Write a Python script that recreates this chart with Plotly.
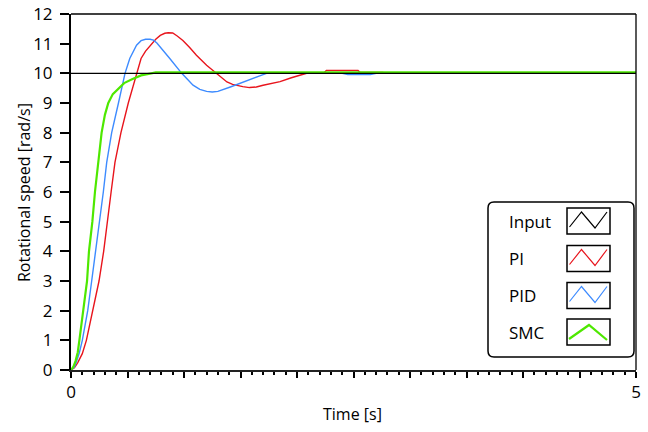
import plotly.graph_objects as go

# ---- data ----
t_input = [0.0, 5.0]
y_input = [10.0, 10.0]

t_pi = [0.0, 0.03, 0.06, 0.10, 0.136, 0.195, 0.248, 0.289, 0.325, 0.355, 0.389, 0.442, 0.507, 0.58,
        0.62, 0.66, 0.70, 0.75, 0.79, 0.83, 0.86, 0.90, 0.94, 0.99, 1.05, 1.11, 1.20, 1.29, 1.34, 1.38,
        1.43, 1.47, 1.52, 1.58, 1.64, 1.70,
        1.85, 1.95, 2.05, 2.10, 2.24, 2.26, 2.54, 2.56, 2.76, 2.78, 5.0]
y_pi = [0.0, 0.08, 0.25, 0.55, 1.0, 2.0, 3.0, 4.0, 5.0, 6.0, 7.0, 8.0, 9.0, 10.0,
        10.5, 10.75, 10.94, 11.15, 11.28, 11.35, 11.37, 11.36, 11.26, 11.11, 10.87, 10.61, 10.27, 10.0, 9.83, 9.71,
        9.63, 9.59, 9.55, 9.52, 9.54, 9.6,
        9.72, 9.85, 9.95, 10.02, 10.02, 10.1, 10.1, 10.03, 10.03, 10.0, 10.0]

t_pid = [0.0, 0.03, 0.05, 0.075, 0.10, 0.148, 0.183, 0.218, 0.248, 0.286, 0.316, 0.36, 0.42, 0.478,
         0.52, 0.58, 0.62, 0.66, 0.70, 0.73, 0.76, 0.79, 0.876, 0.98, 1.08, 1.14, 1.20, 1.25, 1.30, 1.41, 1.525,
         1.64, 1.73, 2.40, 2.45, 2.65, 2.70, 5.0]
y_pid = [0.0, 0.1, 0.3, 0.6, 1.0, 2.0, 3.0, 4.0, 5.0, 6.0, 7.0, 8.0, 9.0, 10.0,
         10.5, 10.95, 11.1, 11.15, 11.15, 11.12, 11.02, 10.89, 10.49, 10.0, 9.6, 9.46, 9.39, 9.37, 9.39, 9.54, 9.71,
         9.88, 10.0, 10.0, 9.96, 9.96, 10.0, 10.0]

t_smc = [0.0, 0.02, 0.04, 0.06, 0.074, 0.109, 0.142, 0.159, 0.189, 0.212, 0.242, 0.271, 0.30, 0.33,
         0.37, 0.42, 0.47, 0.54, 0.62, 0.71, 0.75, 5.0]
y_smc = [0.0, 0.1, 0.3, 0.6, 1.0, 2.0, 3.0, 4.0, 5.0, 6.0, 7.0, 8.0, 8.6, 9.0,
         9.3, 9.5, 9.67, 9.8, 9.93, 10.0, 10.03, 10.03]

series_names = ["Input", "PI", "PID", "SMC"]
series_colors = ["#000000", "#e8141c", "#3d8bff", "#4ee800"]

x_tickvals = [0, 0.5, 1, 1.5, 2, 2.5, 3, 3.5, 4, 4.5, 5]
x_ticktext = ["0", "", "", "", "", "", "", "", "", "", "5"]
y_tickvals = list(range(0, 13))

FONT = "Open Sans"

fig = go.Figure()
fig.add_trace(go.Scatter(x=t_pi, y=y_pi, mode="lines", name="PI",
                         line=dict(color=series_colors[1], width=1.4), showlegend=False))
fig.add_trace(go.Scatter(x=t_pid, y=y_pid, mode="lines", name="PID",
                         line=dict(color=series_colors[2], width=1.4), showlegend=False))
fig.add_trace(go.Scatter(x=t_smc, y=y_smc, mode="lines", name="SMC",
                         line=dict(color=series_colors[3], width=2.2), showlegend=False))
fig.add_trace(go.Scatter(x=t_input, y=y_input, mode="lines", name="Input",
                         line=dict(color=series_colors[0], width=1.2), showlegend=False))

# ---- custom legend (text left, sample box right) ----
L, R, T, B = 71, 636, 14, 370
def px(x):
    return (x - L) / (R - L)
def py(y):
    return (B - y) / (B - T)

shapes = []
annotations = []
x0, x1, y0, y1, r = 488, 634, 202, 357, 6
path = (f"M {px(x0+r)},{py(y0)} L {px(x1-r)},{py(y0)} Q {px(x1)},{py(y0)} {px(x1)},{py(y0+r)} "
        f"L {px(x1)},{py(y1-r)} Q {px(x1)},{py(y1)} {px(x1-r)},{py(y1)} "
        f"L {px(x0+r)},{py(y1)} Q {px(x0)},{py(y1)} {px(x0)},{py(y1-r)} "
        f"L {px(x0)},{py(y0+r)} Q {px(x0)},{py(y0)} {px(x0+r)},{py(y0)} Z")
shapes.append(dict(type="path", xref="paper", yref="paper", path=path,
                   line=dict(color="black", width=1.5), fillcolor="white", layer="above"))

row_centers = [221, 258.5, 295.5, 332]
for i, (name, col) in enumerate(zip(series_names, series_colors)):
    cy = row_centers[i]
    annotations.append(dict(x=px(507), y=py(cy), xref="paper", yref="paper", text=name,
                            showarrow=False, xanchor="left", yanchor="middle",
                            font=dict(family=FONT, size=17, color="black")))
    bx0, bx1, by0, by1 = 567, 610, cy - 13, cy + 13
    shapes.append(dict(type="rect", xref="paper", yref="paper",
                       x0=px(bx0), x1=px(bx1), y0=py(by1), y1=py(by0),
                       line=dict(color="black", width=1.5), fillcolor="white", layer="above"))
    if name == "SMC":
        zz = f"M {px(569)},{py(cy+7)} L {px(589)},{py(cy-7)} L {px(607)},{py(cy+8)}"
        w = 2.2
    else:
        zz = (f"M {px(569.5)},{py(cy+6)} L {px(581.5)},{py(cy-9)} L {px(595)},{py(cy+7)} "
              f"L {px(607)},{py(cy-9)}")
        w = 1.2
    shapes.append(dict(type="path", xref="paper", yref="paper", path=zz,
                       line=dict(color=col, width=w), layer="above"))

annotations.append(dict(x=px(352), y=py(414), xref="paper", yref="paper", text="Time [s]",
                        showarrow=False, xanchor="center", yanchor="middle",
                        font=dict(family=FONT, size=16, color="black")))
annotations.append(dict(x=px(24), y=py(193), xref="paper", yref="paper",
                        text="Rotational speed [rad/s]", textangle=-90,
                        showarrow=False, xanchor="center", yanchor="middle",
                        font=dict(family=FONT, size=16, color="black")))

fig.update_layout(
    width=648, height=432,
    margin=dict(l=L, r=648 - R, t=T, b=432 - B, autoexpand=False),
    paper_bgcolor="white", plot_bgcolor="white",
    font=dict(family=FONT, size=17, color="black"),
    shapes=shapes, annotations=annotations,
    xaxis=dict(range=[0, 5], tickmode="array", tickvals=x_tickvals, ticktext=x_ticktext,
               ticks="outside", ticklen=6, tickwidth=1.5, tickcolor="black",
               minor=dict(dtick=0.1, ticks="outside", ticklen=3, tickwidth=1.5, tickcolor="black"),
               showline=True, linecolor="#222222", linewidth=2, mirror=False,
               showgrid=False, zeroline=False, automargin=False,
               tickfont=dict(family=FONT, size=17)),
    yaxis=dict(range=[0, 12], tickmode="array", tickvals=y_tickvals,
               ticks="outside", ticklen=9, tickwidth=1.5, tickcolor="black",
               ticklabelstandoff=4,
               showline=True, linecolor="black", linewidth=2, mirror=False,
               showgrid=False, zeroline=False, automargin=False,
               tickfont=dict(family=FONT, size=17)),
)
fig.add_shape(type="line", xref="paper", yref="paper", x0=0, x1=1, y0=1, y1=1,
              line=dict(color="black", width=1.3))
fig.add_shape(type="line", xref="paper", yref="paper", x0=1, x1=1, y0=0, y1=1,
              line=dict(color="black", width=1.3))

fig.write_html("out.html")
